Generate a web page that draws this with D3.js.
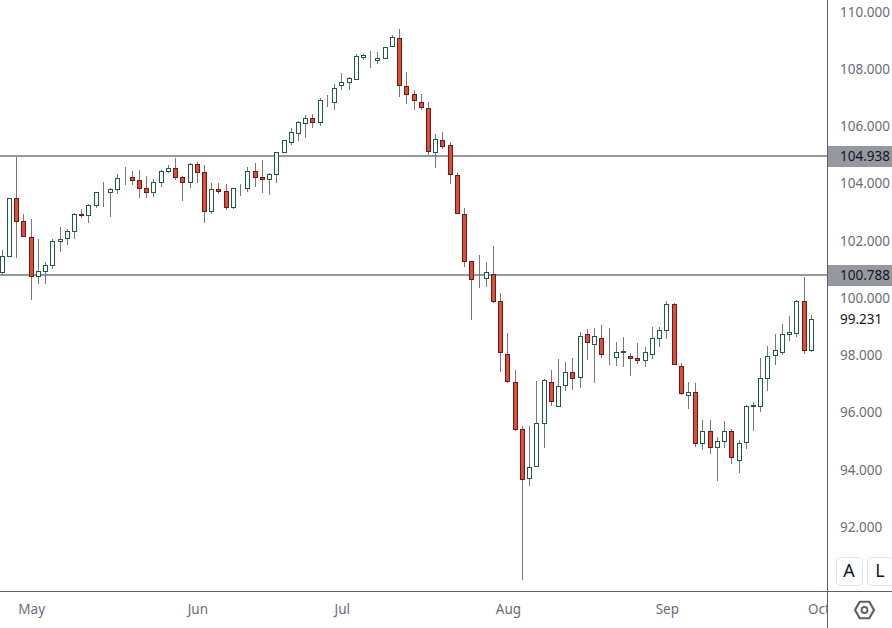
<!DOCTYPE html>
<html>
<head>
<meta charset="utf-8">
<script src="https://cdn.jsdelivr.net/npm/d3@7"></script>
<style>
  html, body { margin: 0; padding: 0; background: #fff; overflow: hidden; }
  text { font-family: "Noto Sans", sans-serif; }
</style>
</head>
<body>
<div id="chart"></div>
<script>
// daily candles
const opens = [100.87,101.43,103.43,102.63,102.10,100.73,100.90,101.11,101.95,102.06,102.30,102.87,102.86,103.21,103.66,103.67,103.77,104.18,104.17,104.06,103.78,103.67,104.02,104.40,104.48,104.17,104.02,104.62,104.34,103.00,103.75,103.68,103.14,103.80,103.81,104.38,104.17,104.12,104.30,105.07,105.42,105.73,106.08,106.23,106.11,106.88,106.81,107.41,107.51,107.62,108.39,108.51,108.28,108.33,108.75,109.03,107.35,107.07,106.79,106.58,105.06,105.46,105.29,104.24,102.87,101.23,100.65,100.66,100.78,99.83,98.01,97.03,95.36,93.67,94.09,95.59,97.03,96.18,96.92,97.38,97.20,98.68,98.36,98.57,97.91,97.90,98.08,97.91,97.87,97.77,98.01,98.57,98.84,99.73,97.59,96.57,96.68,94.89,95.32,94.75,94.96,95.32,94.29,94.92,96.17,96.18,97.16,97.97,98.07,98.71,98.74,99.83,98.14];
const highs = [101.64,103.45,104.91,102.90,102.73,102.03,101.23,102.03,102.45,102.38,102.94,103.08,103.25,103.66,104.02,103.80,104.30,104.55,104.41,104.44,104.23,104.12,104.44,104.62,104.86,104.22,104.69,104.72,104.62,103.99,103.99,103.95,103.80,103.95,104.55,104.69,104.79,104.33,105.06,105.48,105.91,106.16,106.36,106.40,106.96,107.06,107.44,107.83,107.68,108.50,108.50,108.60,108.57,108.73,109.16,109.37,107.87,107.24,107.10,106.82,105.70,105.77,105.42,104.34,103.11,101.25,101.47,101.22,101.78,100.14,98.74,97.45,95.48,95.49,97.06,97.13,97.45,97.83,97.73,97.87,98.78,98.88,98.92,99.02,98.92,98.43,98.60,98.03,98.39,98.25,98.95,98.95,99.86,99.81,97.68,97.02,96.99,95.70,95.70,95.11,95.66,95.39,95.00,96.22,96.33,97.87,98.29,98.71,99.06,99.34,99.90,100.70,99.37];
const lows = [100.77,101.41,101.38,102.11,99.90,100.46,100.46,100.98,101.57,101.82,102.03,102.78,102.59,103.11,103.15,102.80,103.60,103.92,103.92,103.46,103.46,103.50,103.85,104.34,104.09,103.36,103.81,103.99,102.59,102.91,103.61,103.05,103.09,103.54,103.68,103.86,103.65,103.58,104.00,105.05,105.33,105.47,105.57,105.92,105.99,106.66,106.55,107.25,107.25,107.60,108.30,108.02,108.16,108.31,108.73,107.01,106.76,106.54,106.54,104.97,104.51,105.18,103.95,102.91,101.05,99.20,100.32,100.35,99.79,97.38,97.01,95.32,90.11,93.39,94.07,94.72,96.19,96.17,96.71,96.75,96.82,97.80,96.99,97.87,97.62,97.59,97.55,97.24,97.66,97.55,97.83,98.25,98.53,97.61,96.59,96.08,94.76,94.65,94.51,93.57,94.72,94.16,93.85,94.69,95.32,95.98,96.71,97.62,97.97,98.46,98.60,98.01,98.09];
const closes = [101.41,103.43,102.65,102.13,100.73,100.88,101.09,101.93,102.03,102.28,102.87,102.84,103.19,103.64,103.66,103.75,104.13,104.18,104.09,103.81,103.67,103.99,104.38,104.48,104.19,104.02,104.62,104.37,103.00,103.75,103.70,103.14,103.78,103.78,104.38,104.19,104.12,104.27,105.04,105.46,105.74,106.09,106.23,106.11,106.86,106.86,107.28,107.49,107.63,108.40,108.43,108.52,108.33,108.71,109.06,107.41,107.09,106.88,106.64,105.10,105.50,105.27,104.30,102.93,101.25,100.62,100.65,100.85,99.85,98.07,97.06,95.37,93.63,94.03,95.60,97.07,96.36,96.89,97.38,97.16,98.64,98.43,98.64,98.01,97.94,98.05,98.09,97.87,97.77,98.05,98.54,98.85,99.73,97.63,96.64,96.65,94.89,95.32,94.75,94.97,95.29,94.40,94.90,96.16,96.20,97.14,97.94,98.15,98.68,98.75,99.83,98.14,99.23];

const priceTicks = [110, 108, 106, 104, 102, 100, 98, 96, 94, 92];
const levels = [104.938, 100.788];
const lastPrice = 99.231;

const monthLabels = ["May", "Jun", "Jul", "Aug", "Sep", "Oct"];
const monthBars = [4, 27, 47, 70, 92, 113];

const width = 892, height = 628;
const plotRight = 827, plotBottom = 591;
const fontSize = 13.5;

const svg = d3.select("#chart").append("svg")
    .attr("width", width)
    .attr("height", height)
    .style("display", "block");

const xScale = d3.scaleLinear().domain([0, 112]).range([2.3, 811.3]);
const yScale = d3.scaleLinear().domain([110, 92]).range([11, 526]);

// keep 1px strokes on the pixel grid
const snap = v => Math.floor(v) + 0.5;
const fmt = d3.format(".3f");

svg.append("defs").append("clipPath")
    .attr("id", "timeClip")
    .append("rect")
    .attr("y", -plotBottom)
    .attr("width", plotRight)
    .attr("height", height);

// horizontal levels
svg.append("g").selectAll("line")
    .data(levels)
    .join("line")
    .attr("x1", 0)
    .attr("x2", plotRight)
    .attr("y1", d => Math.ceil(yScale(d)))
    .attr("y2", d => Math.ceil(yScale(d)))
    .attr("stroke", "#9598a1")
    .attr("stroke-width", 2)
    .attr("shape-rendering", "crispEdges");

// candles
const candles = svg.append("g")
    .selectAll("g")
    .data(opens.map((o, i) => ({ i, o, h: highs[i], l: lows[i], c: closes[i] })))
    .join("g")
    .attr("shape-rendering", "crispEdges");

candles.append("line")
    .attr("x1", d => snap(xScale(d.i)))
    .attr("x2", d => snap(xScale(d.i)))
    .attr("y1", d => Math.round(yScale(d.h)))
    .attr("y2", d => Math.round(yScale(d.l)))
    .attr("stroke", "#787878");

candles.append("rect")
    .attr("x", d => snap(xScale(d.i)) - 2)
    .attr("width", 4)
    .attr("y", d => snap(yScale(Math.max(d.o, d.c))))
    .attr("height", d => snap(yScale(Math.min(d.o, d.c))) - snap(yScale(Math.max(d.o, d.c))))
    .attr("fill", d => d.c >= d.o ? "#ffffff" : "#dc4f3c")
    .attr("stroke", d => d.c >= d.o ? "#1b5e3f" : "#6b1a16");

// frame of the panes
svg.append("line")
    .attr("x1", plotRight + 0.5).attr("x2", plotRight + 0.5)
    .attr("y1", 0).attr("y2", height)
    .attr("stroke", "#5d606b");
svg.append("line")
    .attr("x1", 0).attr("x2", width)
    .attr("y1", plotBottom + 0.5).attr("y2", plotBottom + 0.5)
    .attr("stroke", "#5d606b");

// price axis
const yAxis = svg.append("g")
    .attr("transform", `translate(${plotRight + 1},1)`)
    .call(d3.axisRight(yScale).tickValues(priceTicks).tickFormat(fmt).tickSize(0).tickPadding(12));
yAxis.select(".domain").remove();
yAxis.selectAll("text")
    .attr("font-family", "'Noto Sans', sans-serif")
    .attr("font-size", fontSize)
    .attr("fill", "#6a6d78");

// level labels
const levelLabels = svg.append("g").selectAll("g")
    .data(levels)
    .join("g")
    .attr("transform", d => `translate(${plotRight + 1},${Math.ceil(yScale(d))})`);
levelLabels.append("rect")
    .attr("y", -10)
    .attr("width", width - plotRight)
    .attr("height", 21)
    .attr("fill", "#9598a1");
levelLabels.append("text")
    .attr("x", 12)
    .attr("y", 0.5)
    .attr("dy", "0.32em")
    .attr("font-size", fontSize)
    .attr("fill", "#131722")
    .text(fmt);

// last price
svg.append("text")
    .attr("x", plotRight + 13)
    .attr("y", yScale(lastPrice) + 1)
    .attr("dy", "0.32em")
    .attr("font-size", fontSize)
    .attr("fill", "#131722")
    .text(fmt(lastPrice));

// time axis
const xAxis = svg.append("g")
    .attr("transform", `translate(0,${plotBottom})`)
    .attr("clip-path", "url(#timeClip)")
    .call(d3.axisBottom(xScale)
        .tickValues(monthBars)
        .tickFormat((d, i) => monthLabels[i])
        .tickSize(0)
        .tickPadding(13));
xAxis.select(".domain").remove();
xAxis.selectAll("text")
    .attr("font-family", "'Noto Sans', sans-serif")
    .attr("font-size", fontSize)
    .attr("fill", "#6a6d78");

// A / L buttons
const buttons = svg.append("g").selectAll("g")
    .data(["A", "L"])
    .join("g")
    .attr("transform", (d, i) => `translate(${836 + i * 31},557)`);
buttons.append("rect")
    .attr("x", 0.5).attr("y", 0.5)
    .attr("width", 26).attr("height", 28)
    .attr("rx", 4)
    .attr("fill", "#fff")
    .attr("stroke", "#e0e3eb");
buttons.append("text")
    .attr("x", 13)
    .attr("y", 14)
    .attr("dy", "0.35em")
    .attr("text-anchor", "middle")
    .attr("font-size", 18)
    .attr("fill", "#131722")
    .text(d => d);

// settings hexagon
const gear = svg.append("g").attr("transform", "translate(864.5,610)");
gear.append("path")
    .attr("d", d3.lineRadial().curve(d3.curveLinearClosed)(
        d3.range(6).map(k => [k * Math.PI / 3 + Math.PI / 2, 9.5])))
    .attr("fill", "none")
    .attr("stroke", "#5d606b")
    .attr("stroke-width", 2.2)
    .attr("stroke-linejoin", "round");
gear.append("circle")
    .attr("r", 3)
    .attr("fill", "none")
    .attr("stroke", "#5d606b")
    .attr("stroke-width", 1.8);
</script>
</body>
</html>
